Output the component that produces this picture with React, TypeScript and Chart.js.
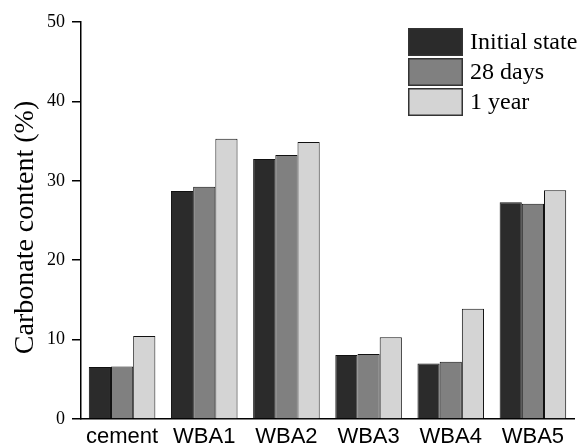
import React, { useEffect, useRef } from "react";
import { Chart, registerables } from "chart.js";

Chart.register(...registerables);

const categories = ["cement", "WBA1", "WBA2", "WBA3", "WBA4", "WBA5"];
const seriesNames = ["Initial state", "28 days", "1 year"];
const initialState = [6.55, 28.7, 32.75, 8.05, 7.0, 27.3];
const days28 = [6.6, 29.25, 33.25, 8.2, 7.2, 27.1];
const oneYear = [10.45, 35.3, 34.9, 10.3, 13.9, 28.8];
const seriesColors = ["#2b2b2b", "#808080", "#d4d4d4"];
const yTicks = [0, 10, 20, 30, 40, 50];
const yTitle = "Carbonate content (%)";

const decorPlugin = {
  id: "decor",
  afterDraw(chart: any) {
    const ctx = chart.ctx;
    ctx.save();
    // legend
    const x = 408;
    const w = 55;
    const h = 28;
    const tops = [28, 58, 88];
    seriesNames.forEach((name, i) => {
      ctx.fillStyle = seriesColors[i];
      ctx.fillRect(x, tops[i], w, h);
      ctx.strokeStyle = "#333";
      ctx.lineWidth = 1.5;
      ctx.strokeRect(x + 0.75, tops[i] + 0.75, w - 1.5, h - 1.5);
      ctx.fillStyle = "#000";
      ctx.font = "24px 'Liberation Serif'";
      ctx.textBaseline = "middle";
      ctx.textAlign = "left";
      ctx.fillText(name, x + w + 7, tops[i] + h / 2 + 1);
    });
    // y title
    ctx.translate(25.5, 227.5);
    ctx.rotate(-Math.PI / 2);
    ctx.font = "28px 'Liberation Serif'";
    ctx.textAlign = "center";
    ctx.textBaseline = "middle";
    ctx.fillStyle = "#000";
    ctx.fillText(yTitle, 0, 0);
    ctx.restore();
  },
};

export default function App() {
  const ref = useRef<HTMLCanvasElement>(null);
  useEffect(() => {
    if (!ref.current) return;
    const data = [initialState, days28, oneYear];
    const chart = new Chart(ref.current, {
      type: "bar",
      data: {
        labels: categories,
        datasets: seriesNames.map((n, i) => ({
          label: n,
          data: data[i],
          backgroundColor: seriesColors[i],
          borderColor: "#111",
          borderWidth: 1,
          categoryPercentage: 0.81,
          barPercentage: 1.0,
        })),
      },
      options: {
        animation: false,
        responsive: false,
        maintainAspectRatio: false,
        layout: { padding: { left: 0, right: 5, top: 22, bottom: 0 } },
        plugins: { legend: { display: false }, tooltip: { enabled: false } },
        scales: {
          x: {
            grid: { display: false, drawTicks: false },
            border: { display: true, color: "#000", width: 1.5 },
            ticks: {
              color: "#000",
              font: { family: "'Liberation Sans'", size: 22 },
              padding: 5,
              maxRotation: 0,
              autoSkip: false,
            },
            afterFit: (s: any) => {
              s.height = 29;
            },
          },
          y: {
            min: 0,
            max: 50,
            afterBuildTicks: (s: any) => {
              s.ticks = yTicks.map((v) => ({ value: v }));
            },
            grid: {
              display: true,
              drawOnChartArea: false,
              drawTicks: true,
              tickLength: 9,
              color: "#000",
              lineWidth: 1.5,
            },
            border: { display: true, color: "#000", width: 1.5 },
            ticks: {
              color: "#000",
              font: { family: "'Liberation Serif'", size: 18 },
              padding: 7,
            },
            afterFit: (s: any) => {
              s.width = 81;
            },
          },
        },
      },
      plugins: [decorPlugin],
    });
    return () => chart.destroy();
  }, []);
  return (
    <div style={{ position: "fixed", left: 0, top: 0, width: 579, height: 448, background: "#fff" }}>
      <canvas ref={ref} width={579} height={448} style={{ width: 579, height: 448 }} />
    </div>
  );
}
